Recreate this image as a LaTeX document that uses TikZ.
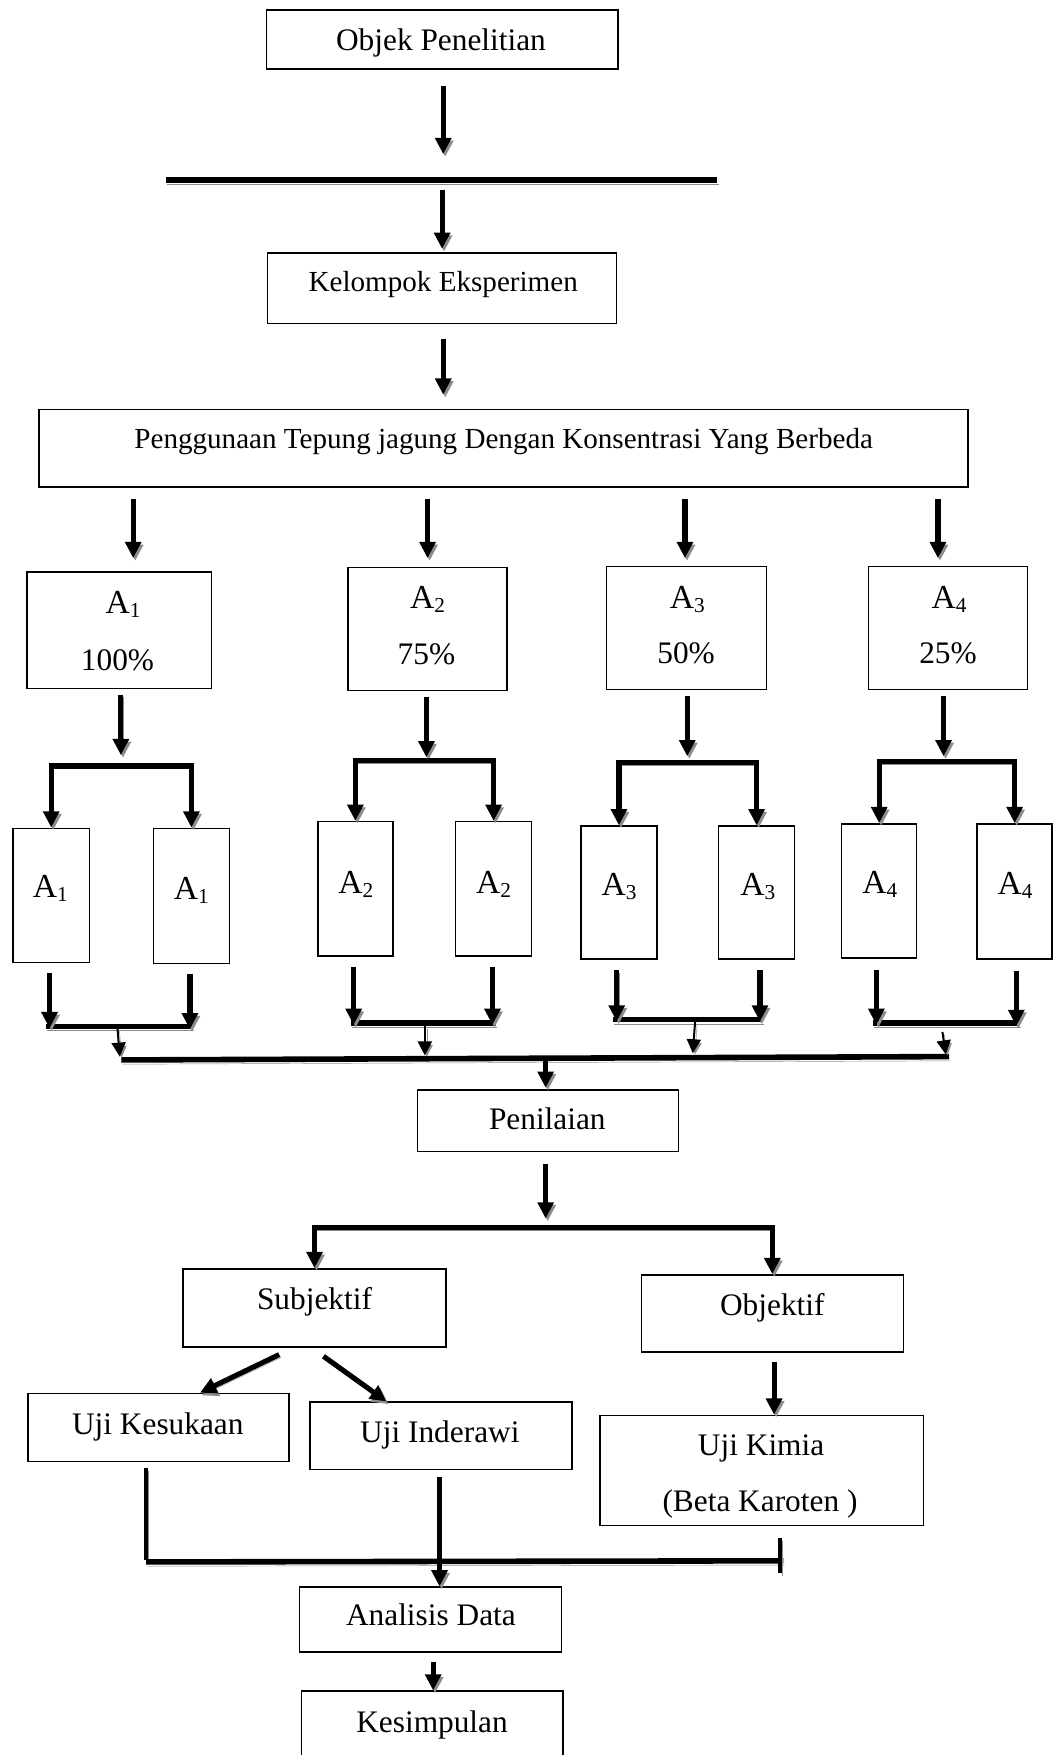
\documentclass[tikz,border=0pt]{standalone}
\usepackage{fontspec}
\setmainfont{Liberation Serif}
\usetikzlibrary{arrows.meta,calc}
\definecolor{shadegray}{gray}{0.55}
% subscript index as in "A1"
\newcommand\idx[1]{\raisebox{-0.12em}{\fontsize{19}{20}\selectfont #1}}
\begin{document}
\begin{tikzpicture}[x=1pt,y=-1pt,
  >={Triangle[length=14.5pt,width=14pt]},
  box/.style={draw, line width=1.3pt, inner sep=0pt, rectangle},
  lbl/.style={inner sep=0pt, anchor=base, font=\fontsize{28}{33}\selectfont},
  lblsm/.style={inner sep=0pt, anchor=base, font=\fontsize{26}{31}\selectfont},
  lblA/.style={inner sep=0pt, anchor=base, font=\fontsize{30}{33}\selectfont},
  shadow/.style={preaction={draw=shadegray, transform canvas={shift={(1.8pt,-2.4pt)}}}},
  barshadow/.style={preaction={draw=shadegray, transform canvas={shift={(1pt,-3.8pt)}}}},
  arr/.style={line width=4.6pt, ->, shadow, line join=miter},
  twoway/.style={line width=4.6pt, <->, shadow, line join=miter},
  thinarr/.style={line width=1.8pt, -{Triangle[length=12.5pt,width=12.5pt]}, shadow},
  bar/.style={line width=5pt, barshadow},
  stem/.style={line width=3.8pt, shadow}]

\useasboundingbox (0,0) rectangle (944,1568);
\clip (0,0) rectangle (944,1568);

% ---------- boxes ----------
\node[box, minimum width=314pt, minimum height=52.5pt] (obj) at (395,35.3) {};
\node[box, minimum width=312pt, minimum height=63pt] (kel) at (395,257.5) {};
\node[box, minimum width=830pt, minimum height=69pt] (peng) at (450,400.5) {};

\node[box, minimum width=165pt, minimum height=104pt] (A1) at (106.5,563) {};
\node[box, minimum width=142pt, minimum height=110pt] (A2) at (382,562) {};
\node[box, minimum width=143pt, minimum height=110pt] (A3) at (613.5,561) {};
\node[box, minimum width=142pt, minimum height=110pt] (A4) at (847,561) {};

\node[box, minimum width=68.5pt, minimum height=120pt] (a1L) at (45.75,800) {};
\node[box, minimum width=68pt, minimum height=121pt] (a1R) at (171,800.5) {};
\node[box, minimum width=67pt, minimum height=120pt] (a2L) at (317.5,794) {};
\node[box, minimum width=68pt, minimum height=120pt] (a2R) at (441,794) {};
\node[box, minimum width=68pt, minimum height=119pt] (a3L) at (553,797.5) {};
\node[box, minimum width=68pt, minimum height=119pt] (a3R) at (676,797.5) {};
\node[box, minimum width=67pt, minimum height=120pt] (a4L) at (785.5,796) {};
\node[box, minimum width=67pt, minimum height=121pt] (a4R) at (906.5,796.5) {};

\node[box, minimum width=233pt, minimum height=55pt] (pen) at (489.5,1001.5) {};
\node[box, minimum width=234.6pt, minimum height=70pt] (sub) at (281,1168.6) {};
\node[box, minimum width=234pt, minimum height=69pt] (obyek) at (690,1173.5) {};
\node[box, minimum width=233.4pt, minimum height=61pt] (kes) at (141.7,1275.5) {};
\node[box, minimum width=234pt, minimum height=60pt] (ind) at (394,1282.75) {};
\node[box, minimum width=289pt, minimum height=98.4pt] (kim) at (680.5,1313.8) {};
\node[box, minimum width=234pt, minimum height=58pt] (ana) at (384.5,1447) {};
\node[box, minimum width=233.5pt, minimum height=89pt] (sim) at (386.25,1555.5) {};

% ---------- texts ----------
\node[lbl] (tobj) at (394,45) {Objek Penelitian};
\node[lblsm] (tkel) at (396,260.5) {Kelompok Eksperimen};
\node[lblsm] (tpeng) at (450,400.5) {Penggunaan Tepung jagung Dengan Konsentrasi Yang Berbeda};

\node[lblA] (tA1) at (110,548) {A\idx{1}};
\node[lbl] (pA1) at (105,599) {100\%};
\node[lblA] (tA2) at (382,544) {A\idx{2}};
\node[lbl] (pA2) at (381,594) {75\%};
\node[lblA] (tA3) at (614,544) {A\idx{3}};
\node[lbl] (pA3) at (613,593) {50\%};
\node[lblA] (tA4) at (848,544) {A\idx{4}};
\node[lbl] (pA4) at (847,593) {25\%};

\node[lblA] (ta1L) at (45,802) {A\idx{1}};
\node[lblA] (ta1R) at (171,804) {A\idx{1}};
\node[lblA] (ta2L) at (318,798) {A\idx{2}};
\node[lblA] (ta2R) at (441,798) {A\idx{2}};
\node[lblA] (ta3L) at (553,800) {A\idx{3}};
\node[lblA] (ta3R) at (677,800) {A\idx{3}};
\node[lblA] (ta4L) at (786,798) {A\idx{4}};
\node[lblA] (ta4R) at (907,799) {A\idx{4}};

\node[lbl] (tpen) at (489,1009) {Penilaian};
\node[lbl] (tsub) at (281,1170) {Subjektif};
\node[lbl] (tobyek) at (690,1175) {Objektif};
\node[lbl] (tkes) at (141,1282) {Uji Kesukaan};
\node[lbl] (tind) at (393,1289) {Uji Inderawi};
\node[lbl] (tkim) at (680,1300) {Uji Kimia};
\node[lbl] (tkim2) at (679,1350) {(Beta Karoten )};
\node[lbl] (tana) at (385,1452) {Analisis Data};
\node[lbl] (tsim) at (386,1548) {Kesimpulan};

% ---------- top trunk ----------
\coordinate (b1L) at (148,161);
\coordinate (b1R) at (641,161);
\draw[bar] (b1L) -- (b1R);
\draw[arr] ($(obj.south)+(1,14.5)$) -- ++(0,61);
\draw[arr] ($(kel.north)+(0,-56)$) -- ($(kel.north)+(0,-3)$);
\draw[arr] ($(kel.south)+(1,13)$) -- ++(0,50);

% ---------- four treatment branches ----------
\foreach \n/\dx in {A1/12.5, A2/0, A3/-1.5, A4/-9}
  \draw[arr] ($(peng.south -| \n.north)+(\dx,10)$) -- ++(0,53);
\foreach \n/\dx in {A1/1.5, A2/-1, A3/0.5, A4/-4}
  \draw[arr] ($(\n.south)+(\dx,5)$) -- ++(0,54);

% split into two replicates
\draw[twoway] (a1L.north) -- ++(0,-55) -| (a1R.north);
\draw[twoway] (a2L.north) -- ++(0,-54) -| (a2R.north);
\draw[twoway] (a3L.north) -- ++(0,-56) -| (a3R.north);
\draw[twoway] (a4L.north) -- ++(0,-55) -| (a4R.north);

% merge replicates
\coordinate (c1L) at (41,917);    \coordinate (c1R) at (172.5,917);
\coordinate (c2L) at (313.5,914); \coordinate (c2R) at (443,914);
\coordinate (c3L) at (548,911);   \coordinate (c3R) at (682,911);
\coordinate (c4L) at (780,914);   \coordinate (c4R) at (911,914);
\draw[bar] (c1L) -- (c1R);
\draw[bar] (c2L) -- (c2R);
\draw[bar] (c3L) -- (c3R);
\draw[bar] (c4L) -- (c4R);
\draw[arr] ($(a1L.south)+(-1.5,9)$) -- ++(0,49);
\draw[arr] ($(a1R.south)+(-1.3,9)$) -- ++(0,49);
\draw[arr] ($(a2L.south)+(-1.5,9)$) -- ++(0,52);
\draw[arr] ($(a2R.south)+(-1,9)$) -- ++(0,52);
\draw[arr] ($(a3L.south)+(-2,9)$) -- ++(0,46);
\draw[arr] ($(a3R.south)+(3,9)$) -- ++(0,46);
\draw[arr] ($(a4L.south)+(-2.5,10)$) -- ++(0,49);
\draw[arr] ($(a4R.south)+(1.5,10)$) -- ++(0,49);

% collect all groups
\coordinate (mL) at (108.5,947);
\coordinate (mR) at (848,944);
\coordinate (t1) at (107,944);
\coordinate (t2) at (379.6,943);
\coordinate (t3) at (619,941);
\coordinate (t4) at (845,942);
\draw[bar] (mL) -- (mR);
\draw[thinarr] (105,919) -- (t1);
\draw[thinarr] (379.6,917) -- (t2);
\draw[thinarr] (621,913) -- (t3);
\draw[thinarr] (842,922) -- (t4);
\draw[arr] ($(pen.north)+(-2,-26)$) -- ($(pen.north)+(-2,-1.5)$);

% ---------- assessment ----------
\draw[arr] ($(pen.south)+(-2,10)$) -- ++(0,49);
\draw[twoway] (sub.north) -- ++(0,-36) -| (obyek.north);
\draw[arr] ($(sub.south)+(-31.5,6)$) -- ($(kes.north)+(37,0)$);
\draw[arr] ($(sub.south)+(8,7.5)$) -- ($(ind.north)+(-48.7,0)$);
\draw[arr] ($(obyek.south)+(1.6,8)$) -- ($(kim.north)+(11.1,0)$);

% ---------- results to analysis ----------
\coordinate (eL) at (130.5,1395.5);
\coordinate (eR) at (700,1394.5);
\draw[stem] ($(kes.south)+(-11.2,5)$) -- ($(kes.south)+(-11.2,87)$);
\draw[bar] (eL) -- (eR);
\draw[stem] ($(kim.south)+(16.7,10.7)$) -- ++(0,31);
\draw[arr] ($(ind.south)+(-1.3,6.5)$) -- ($(ana.north)+(8.2,0)$);
\draw[arr] ($(ana.south)+(2.5,8)$) -- ($(sim.north)+(0.75,0)$);

\end{tikzpicture}
\end{document}
